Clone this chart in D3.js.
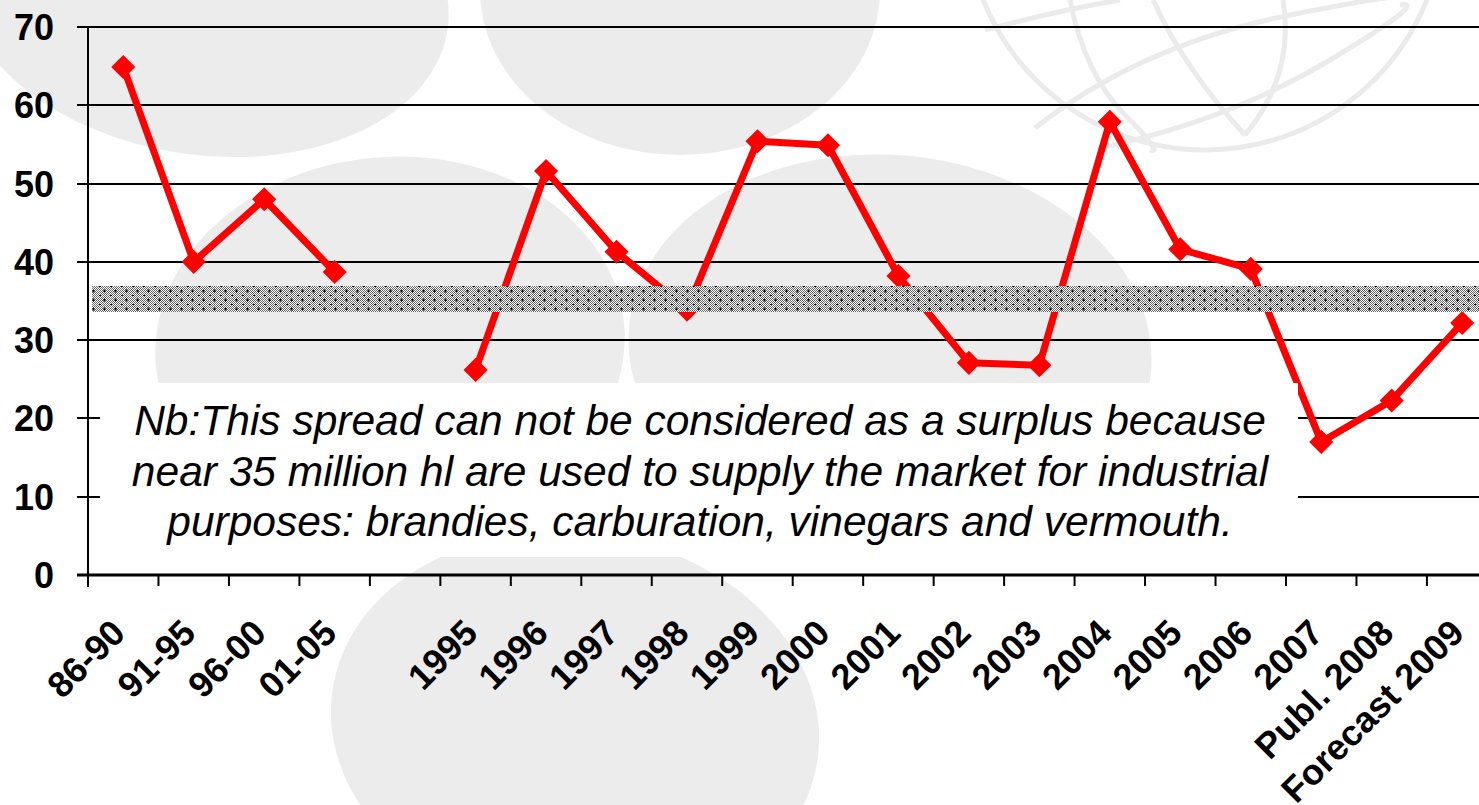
<!DOCTYPE html>
<html>
<head>
<meta charset="utf-8">
<script src="https://cdn.jsdelivr.net/npm/d3@7"></script>
<style>
html, body { margin: 0; padding: 0; background: #fff; }
svg { display: block; font-family: "Liberation Sans", Arial, sans-serif; }
</style>
</head>
<body>
<svg id="chart" width="1479" height="805"></svg>
<script>
'use strict';

// Chart data.
var categories = ['86-90', '91-95', '96-00', '01-05', '', '1995', '1996', '1997', '1998',
    '1999', '2000', '2001', '2002', '2003', '2004', '2005', '2006', '2007',
    'Publ. 2008', 'Forecast 2009'];
var spread = [64.9, 40.0, 48.0, 38.7, null, 26.2, 51.6, 41.3, 33.9,
    55.4, 54.9, 38.2, 27.1, 26.8, 57.9, 41.6, 39.1, 17.0,
    22.3, 32.2];
var yTicks = [0, 10, 20, 30, 40, 50, 60, 70];
var industrialBand = [33.6, 36.9];
var noteLines = [
    'Nb:This spread can not be considered as a surplus because',
    'near 35 million hl are used to supply the market for industrial',
    'purposes: brandies, carburation, vinegars and vermouth.'
];

var W = 1479, H = 805;
var margin = {top: 27, left: 88, bottom: 230};
var plotBottom = H - margin.bottom;           // y of the zero line
var bandStep = 70.47;
var plotRight = margin.left + bandStep * categories.length;

var svg = d3.select('#chart');
var defs = svg.append('defs');

// Dithered grey fill for the "industrial use" band.
var dither = defs.append('pattern')
    .attr('id', 'dither')
    .attr('patternUnits', 'userSpaceOnUse')
    .attr('width', 2).attr('height', 2);
dither.append('rect').attr('width', 2).attr('height', 2).attr('fill', '#fff');
dither.append('rect').attr('width', 1).attr('height', 1).attr('fill', '#666');
dither.append('rect').attr('x', 1).attr('y', 1).attr('width', 1).attr('height', 1).attr('fill', '#666');

var crosses = defs.append('pattern')
    .attr('id', 'crosses')
    .attr('patternUnits', 'userSpaceOnUse')
    .attr('width', 11).attr('height', 9);
crosses.append('path')
    .attr('d', 'M4,3h3M5.5,1.5v3M0,7.5h2')
    .attr('stroke', '#000').attr('stroke-width', 1);

/*
 * Light watermark shapes behind the chart.
 */
var wm = svg.append('g').attr('fill', '#ececec');
[
    {cx: 205, cy: -5, rx: 245, ry: 160, r: 8},
    {cx: 680, cy: -10, rx: 200, ry: 165, r: 0},
    {cx: 390, cy: 345, rx: 235, ry: 188, r: -5},
    {cx: 890, cy: 350, rx: 262, ry: 195, r: 5},
    {cx: 575, cy: 725, rx: 245, ry: 192, r: 8}
].forEach(function(e) {
    wm.append('ellipse')
        .attr('cx', e.cx).attr('cy', e.cy)
        .attr('rx', e.rx).attr('ry', e.ry)
        .attr('transform', 'rotate(' + e.r + ',' + e.cx + ',' + e.cy + ')');
});

// Globe outline, top right.
var globe = svg.append('g')
    .attr('fill', 'none')
    .attr('stroke', '#ebebeb')
    .attr('stroke-width', 5);
globe.append('circle').attr('cx', 1205).attr('cy', -89).attr('r', 239);
globe.append('path').attr('d', 'M1070,0 Q1085,75 1125,115 T1150,150');
globe.append('path').attr('d', 'M1153,0 Q1185,70 1245,135');
globe.append('path').attr('d', 'M1283,0 Q1295,75 1245,135');
globe.append('path').attr('d', 'M1035,128 Q1140,45 1290,15 T1425,0');
globe.append('path').attr('d', 'M1100,148 Q1230,120 1330,60 T1400,5');
globe.append('path').attr('d', 'M985,30 Q1060,10 1120,0');

/*
 * Scales.
 */
var xScale = d3.scaleBand()
    .domain(d3.range(categories.length))
    .range([margin.left, plotRight]);
var yScale = d3.scaleLinear()
    .domain([0, 70])
    .range([plotBottom, margin.top]);

// Horizontal gridlines with small outside ticks.
svg.append('g')
    .selectAll('line.grid')
    .data(yTicks.filter(function(d) { return d > 0; }))
    .enter()
    .append('line')
    .attr('x1', margin.left - 11)
    .attr('x2', W)
    .attr('y1', function(d) { return Math.round(yScale(d)); })
    .attr('y2', function(d) { return Math.round(yScale(d)); })
    .attr('stroke', '#000')
    .attr('stroke-width', 2);

// The series.
var line = d3.line()
    .defined(function(d) { return d !== null; })
    .x(function(d, i) { return xScale(i) + xScale.bandwidth() / 2; })
    .y(function(d) { return yScale(d); });

svg.append('path')
    .datum(spread)
    .attr('d', line)
    .attr('fill', 'none')
    .attr('stroke', '#ff0000')
    .attr('stroke-width', 7)
    .attr('stroke-linejoin', 'round');

var diamond = d3.symbol().type(d3.symbolSquare).size(290);
svg.append('g')
    .selectAll('path')
    .data(spread.map(function(v, i) { return {v: v, i: i}; })
        .filter(function(d) { return d.v !== null; }))
    .enter()
    .append('path')
    .attr('d', diamond)
    .attr('fill', '#ff0000')
    .attr('transform', function(d) {
        return 'translate(' + (xScale(d.i) + xScale.bandwidth() / 2) + ',' + yScale(d.v) + ') rotate(45)';
    });

// Band for the ~35 million hl industrial use, drawn over the line.
var bandY = Math.round(yScale(industrialBand[1]));
var bandH = Math.round(yScale(industrialBand[0])) - bandY;
svg.append('rect')
    .attr('x', margin.left + 4).attr('y', bandY)
    .attr('width', W - margin.left - 4).attr('height', bandH)
    .attr('fill', 'url(#dither)');
svg.append('rect')
    .attr('x', margin.left + 4).attr('y', bandY)
    .attr('width', W - margin.left - 4).attr('height', bandH)
    .attr('fill', 'url(#crosses)');

// White note box with italic text.
var note = svg.append('g');
note.append('rect')
    .attr('x', 100).attr('y', 383)
    .attr('width', 1198).attr('height', 174)
    .attr('fill', '#fff');
note.selectAll('text')
    .data(noteLines)
    .enter()
    .append('text')
    .attr('x', 700)
    .attr('y', function(d, i) { return 435 + i * 50.5; })
    .attr('text-anchor', 'middle')
    .attr('font-style', 'italic')
    .attr('font-size', 42.5)
    .attr('fill', '#000')
    .text(function(d) { return d; });

/*
 * Axes.
 */
// y-axis line and labels.
svg.append('line')
    .attr('x1', margin.left).attr('x2', margin.left)
    .attr('y1', margin.top - 1).attr('y2', plotBottom + 12)
    .attr('stroke', '#000').attr('stroke-width', 2);

svg.append('g')
    .selectAll('text')
    .data(yTicks)
    .enter()
    .append('text')
    .attr('x', 54)
    .attr('y', function(d) { return yScale(d); })
    .attr('dy', '0.36em')
    .attr('text-anchor', 'end')
    .attr('font-weight', 'bold')
    .attr('font-size', 36)
    .text(function(d) { return d; });

// x-axis line, boundary ticks and rotated labels.
svg.append('line')
    .attr('x1', margin.left - 11).attr('x2', W)
    .attr('y1', plotBottom).attr('y2', plotBottom)
    .attr('stroke', '#000').attr('stroke-width', 3);

svg.append('g')
    .selectAll('line')
    .data(d3.range(categories.length + 1))
    .enter()
    .append('line')
    .attr('x1', function(i) { return margin.left + i * xScale.step(); })
    .attr('x2', function(i) { return margin.left + i * xScale.step(); })
    .attr('y1', plotBottom)
    .attr('y2', plotBottom + 11)
    .attr('stroke', '#000')
    .attr('stroke-width', 2);

svg.append('g')
    .selectAll('text')
    .data(categories)
    .enter()
    .append('text')
    .attr('text-anchor', 'end')
    .attr('font-weight', 'bold')
    .attr('font-size', 36)
    .attr('transform', function(d, i) {
        var cx = xScale(i) + xScale.bandwidth() / 2 + 4;
        return 'translate(' + cx + ',' + (plotBottom + 60) + ') rotate(-45)';
    })
    .text(function(d) { return d; });
</script>
</body>
</html>
